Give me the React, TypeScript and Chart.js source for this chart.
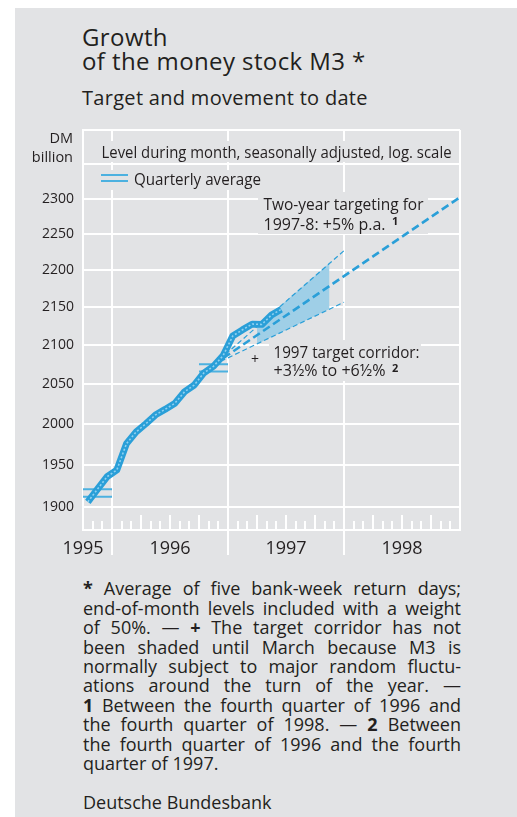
import React, { useEffect, useRef } from 'react';
import { Chart, registerables } from 'chart.js';

Chart.register(...registerables);

// ---------- data (x axis unit: months since 1 Oct 1995) ----------
const M3_MONTHS = [
  '1995-10', '1995-11', '1995-12', '1996-01', '1996-02', '1996-03', '1996-04',
  '1996-05', '1996-06', '1996-07', '1996-08', '1996-09', '1996-10', '1996-11',
  '1996-12', '1997-01', '1997-02', '1997-03', '1997-04', '1997-05', '1997-06',
];
const M3_VALUES = [
  1906, 1921, 1936, 1944, 1976, 1990.5, 2000.5, 2011.5, 2018.5, 2026, 2040.5,
  2049, 2064.5, 2073, 2087, 2112.5, 2120.5, 2128, 2127.5, 2140, 2147.5,
];
const QUARTER_STARTS = ['1995-10', '1996-10'];
const QUARTER_AVERAGES = [1916.5, 2071];

const TARGET_MONTHS = [13.5, 39]; // mid-Nov 1996 -> end of 1998
const TWO_YEAR_TARGET = [2075, 2302];
const CORRIDOR_MONTHS = [13.5, 27]; // mid-Nov 1996 -> end of 1997
const CORRIDOR_UPPER = [2075, 2227];
const CORRIDOR_LOWER = [2075, 2157];
const SHADE_MONTHS = [18, 25.5]; // end of March 1997 -> mid-Nov 1997
const SHADE_UPPER = [2125, 2210];
const SHADE_LOWER = [2102, 2148];

const Y_TICKS = [1900, 1950, 2000, 2050, 2100, 2150, 2200, 2250, 2300, 2350, 2400];
const Y_LABEL_MAX = 2300;
const Y_MIN = 1873;
const Y_MAX = 2400;
const YEAR_LABELS = ['1995', '1996', '1997', '1998'];
const YEAR_LABEL_MONTHS = [0, 9, 21, 33];
const YEAR_BOUNDARIES = [3, 15, 27];
const AXIS_MONTHS = 39;

// ---------- styles ----------
const PANEL_BG = '#e2e3e5';
const BLUE = '#2a9fd8';
const Q_BLUE = '#4cb1e0';
const SHADE = '#9fcfe7';
const TEXT = '#231f20';
const FONT = '"Open Sans", sans-serif';

function monthIndex(s: string) {
  const [y, m] = s.split('-').map(Number);
  return (y - 1995) * 12 + (m - 1) - 9;
}

const decorPlugin = {
  id: 'decor',
  beforeDatasetsDraw(chart: any) {
    const { ctx, chartArea, scales } = chart;
    const xs = scales.x;
    ctx.save();
    // monthly tick strip
    ctx.strokeStyle = '#ffffff';
    ctx.lineWidth = 2;
    for (let m = 1; m < AXIS_MONTHS; m++) {
      if (YEAR_BOUNDARIES.includes(m)) continue;
      const len = m % 3 === 0 ? 15 : 9;
      const x = Math.round(xs.getPixelForValue(m));
      ctx.beginPath();
      ctx.moveTo(x, chartArea.bottom);
      ctx.lineTo(x, chartArea.bottom - len);
      ctx.stroke();
    }
    // text background boxes
    ctx.fillStyle = PANEL_BG;
    ctx.fillRect(96, 141, 360, 21);
    ctx.fillRect(96, 170, 170, 20);
    ctx.fillRect(258, 192, 170, 42);
    ctx.fillRect(269, 340, 152, 41);

    ctx.fillStyle = TEXT;
    ctx.textBaseline = 'alphabetic';
    ctx.textAlign = 'left';
    ctx.font = `17px ${FONT}`;
    ctx.fillText('Level during month, seasonally adjusted, log. scale', 101.5, 157.5, 350);
    ctx.fillText('Quarterly average', 134, 185, 127);
    ctx.fillText('Two-year targeting for', 263.5, 210, 160);
    ctx.fillText('1997-8: +5% p.a.', 263.5, 229.5, 122);
    ctx.fillText('1997 target corridor:', 273.5, 357.5, 146);
    ctx.fillText('+3½% to +6½%', 273.5, 376, 112);
    ctx.font = `bold 11px ${FONT}`;
    ctx.fillText('1', 392, 225);
    ctx.fillText('2', 392, 372);
    ctx.font = `14px ${FONT}`;
    ctx.textAlign = 'center';
    ctx.fillText('+', 255, 364);

    // legend sample (double line)
    ctx.strokeStyle = Q_BLUE;
    ctx.lineWidth = 2;
    [175, 181].forEach((y) => {
      ctx.beginPath();
      ctx.moveTo(101, y);
      ctx.lineTo(128, y);
      ctx.stroke();
    });

    // unit label
    ctx.fillStyle = TEXT;
    ctx.textAlign = 'right';
    ctx.font = `14.5px ${FONT}`;
    ctx.fillText('DM', 73, 142.7);
    ctx.fillText('billion', 73, 161.5);
    ctx.restore();
  },
};

export default function App() {
  const ref = useRef<HTMLCanvasElement>(null);

  useEffect(() => {
    if (!ref.current) return;
    const m3Data = M3_MONTHS.map((m, i) => ({ x: monthIndex(m) + 0.5, y: M3_VALUES[i] }));
    const qData: any[] = [];
    QUARTER_STARTS.forEach((q, i) => {
      const s = monthIndex(q);
      if (i > 0) qData.push({ x: s - 1, y: null });
      qData.push({ x: s, y: QUARTER_AVERAGES[i] }, { x: s + 3, y: QUARTER_AVERAGES[i] });
    });
    const pts = (xs: number[], ys: number[]) => xs.map((x, i) => ({ x, y: ys[i] }));

    const common = { pointRadius: 0, tension: 0, fill: false };
    const chart = new Chart(ref.current, {
      type: 'line',
      data: {
        datasets: [
          { ...common, label: 'M3 inner', data: m3Data, borderColor: 'rgba(150,212,242,0.95)', borderWidth: 1.6, borderDash: [2, 2], order: 0, borderJoinStyle: 'round' },
          { ...common, label: 'M3', data: m3Data, borderColor: BLUE, borderWidth: 6.8, order: 1, borderJoinStyle: 'round' },
          { ...common, label: 'Two-year target', data: pts(TARGET_MONTHS, TWO_YEAR_TARGET), borderColor: BLUE, borderWidth: 2.6, borderDash: [8, 4], order: 2 },
          { ...common, label: 'Corridor upper', data: pts(CORRIDOR_MONTHS, CORRIDOR_UPPER), borderColor: BLUE, borderWidth: 1.2, borderDash: [5, 3], order: 3 },
          { ...common, label: 'Corridor lower', data: pts(CORRIDOR_MONTHS, CORRIDOR_LOWER), borderColor: BLUE, borderWidth: 1.2, borderDash: [5, 3], order: 4 },
          { ...common, label: 'Quarter inner', data: qData, borderColor: PANEL_BG, borderWidth: 5.4, order: 5 },
          { ...common, label: 'Quarterly average', data: qData, borderColor: Q_BLUE, borderWidth: 9.4, order: 6 },
          { ...common, label: 'Shade upper', data: pts(SHADE_MONTHS, SHADE_UPPER), borderWidth: 0, borderColor: 'transparent', backgroundColor: SHADE, fill: '+1', order: 7 },
          { ...common, label: 'Shade lower', data: pts(SHADE_MONTHS, SHADE_LOWER), borderWidth: 0, borderColor: 'transparent', order: 8 },
        ] as any,
      },
      options: {
        animation: false,
        responsive: false,
        devicePixelRatio: 1,
        layout: { padding: { left: 15, top: 130, right: 57, bottom: 0 } },
        plugins: { legend: { display: false }, tooltip: { enabled: false } },
        scales: {
          x: {
            type: 'linear',
            min: 0,
            max: AXIS_MONTHS,
            afterBuildTicks: (s: any) => {
              const vals = [0, ...YEAR_BOUNDARIES, AXIS_MONTHS, ...YEAR_LABEL_MONTHS.slice(1)].sort((a, b) => a - b);
              s.ticks = vals.map((v) => ({ value: v }));
            },
            afterFit: (s: any) => { s.height = 40; },
            ticks: {
              autoSkip: false,
              maxRotation: 0,
              padding: -17,
              color: TEXT,
              font: { family: FONT, size: 18 },
              callback: (v: any) => {
                const i = YEAR_LABEL_MONTHS.indexOf(Number(v));
                return i >= 0 ? YEAR_LABELS[i] : '';
              },
            },
            grid: {
              color: (c: any) => {
                const v = c.tick?.value;
                return v === 0 || v === AXIS_MONTHS || YEAR_BOUNDARIES.includes(v) ? '#ffffff' : 'rgba(0,0,0,0)';
              },
              lineWidth: 2,
              drawTicks: true,
              tickLength: 25,
              tickWidth: 2,
              tickColor: (c: any) => (YEAR_BOUNDARIES.includes(c.tick?.value) ? '#ffffff' : 'rgba(0,0,0,0)'),
            },
            border: { display: true, color: '#ffffff', width: 2 },
          } as any,
          y: {
            type: 'logarithmic',
            min: Y_MIN,
            max: Y_MAX,
            afterBuildTicks: (s: any) => { s.ticks = Y_TICKS.map((v) => ({ value: v })); },
            afterFit: (s: any) => { s.width = 68; },
            ticks: {
              padding: 9,
              color: TEXT,
              font: { family: FONT, size: 14 },
              callback: (v: any) => (Number(v) <= Y_LABEL_MAX ? String(v) : ''),
            },
            grid: { color: '#ffffff', lineWidth: 2, drawTicks: false },
            border: { display: true, color: '#ffffff', width: 2 },
          } as any,
        },
      },
      plugins: [decorPlugin],
    });
    return () => chart.destroy();
  }, []);

  const footLines: React.ReactNode[] = [
    <><b>*</b> Average of five bank-week return days;</>,
    <>end-of-month levels included with a weight</>,
    <>of 50%. — <b>+</b> The target corridor has not</>,
    <>been shaded until March because M3 is</>,
    <>normally subject to major random fluctu-</>,
    <>ations around the turn of the year. —</>,
    <><b>1</b> Between the fourth quarter of 1996 and</>,
    <>the fourth quarter of 1998. — <b>2</b> Between</>,
    <>the fourth quarter of 1996 and the fourth</>,
  ];

  return (
    <div style={{ position: 'absolute', left: 0, top: 0, width: 517, height: 817, overflow: 'hidden', fontFamily: FONT, color: TEXT }}>
      <div style={{ position: 'absolute', left: 15, top: 8, width: 502, height: 809, background: PANEL_BG }} />
      <div style={{ position: 'absolute', left: 82, top: 25.4, fontSize: 24, lineHeight: '24px', letterSpacing: '0.4px', whiteSpace: 'nowrap' }}>
        Growth<br />of the money stock M3 *
      </div>
      <div style={{ position: 'absolute', left: 82, top: 88.2, fontSize: 20, lineHeight: '20px', letterSpacing: '0.3px', whiteSpace: 'nowrap' }}>
        Target and movement to date
      </div>
      <canvas ref={ref} width={517} height={570} style={{ position: 'absolute', left: 0, top: 0, width: 517, height: 570 }} />
      <div style={{ position: 'absolute', left: 83, top: 579.3, width: 378, fontSize: 18, lineHeight: '19.4px' }}>
        {footLines.map((l, i) => (
          <div key={i} style={{ textAlign: 'justify', textAlignLast: 'justify', whiteSpace: 'nowrap' as any }}>{l}</div>
        ))}
        <div>quarter of 1997.</div>
      </div>
      <div style={{ position: 'absolute', left: 83, top: 792.6, fontSize: 18, lineHeight: '19.4px', whiteSpace: 'nowrap' }}>
        Deutsche Bundesbank
      </div>
    </div>
  );
}
